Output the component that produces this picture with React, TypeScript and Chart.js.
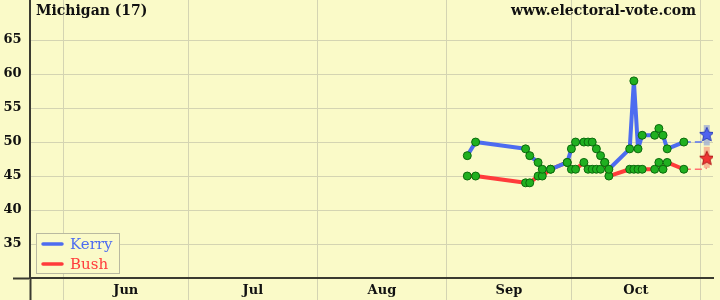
import React, { useEffect, useRef } from "react";
import { Chart, registerables } from "chart.js";

Chart.register(...registerables);

// ---- data ----
const TITLE = "Michigan (17)";
const SITE = "www.electoral-vote.com";
const MONTH_LABELS = ["Jun", "Jul", "Aug", "Sep", "Oct"];
const MONTH_STARTS = ["06-01", "07-01", "08-01", "09-01", "10-01", "11-01"];
const Y_TICKS = [30, 35, 40, 45, 50, 55, 60, 65];

const pollDates = [
  "09-06", "09-08", "09-20", "09-21", "09-23", "09-24", "09-26", "09-30",
  "10-01", "10-02", "10-04", "10-05", "10-06", "10-07", "10-08", "10-09",
  "10-10", "10-15", "10-16", "10-17", "10-18", "10-21", "10-22", "10-23",
  "10-24", "10-28",
];
const kerry = [
  48, 50, 49, 48, 47, 46, 46, 47,
  49, 50, 50, 50, 50, 49, 48, 47,
  46, 49, 59, 49, 51, 51, 52, 51,
  49, 50,
];
const bush = [
  45, 45, 44, 44, 45, 45, 46, 47,
  46, 46, 47, 46, 46, 46, 46, 47,
  45, 46, 46, 46, 46, 46, 47, 46,
  47, 46,
];

const electionDate = "11-02";
const kerryProjection = 51.2;
const bushProjection = 47.7;
const kerryRange = [49.5, 52.5];
const bushRange = [46.2, 49.3];

const SERIES = [
  { name: "Kerry", color: "#4d6cf0" },
  { name: "Bush", color: "#ff3b3b" },
];

// ---- helpers ----
function dayOf(md: string, hour = 0): number {
  const [m, d] = md.split("-").map(Number);
  return (Date.UTC(2004, m - 1, d, hour) - Date.UTC(2004, 5, 1)) / 86400000;
}

function starImage(fill: string, stroke: string, size: number): HTMLCanvasElement {
  const c = document.createElement("canvas");
  c.width = size;
  c.height = size;
  const g = c.getContext("2d")!;
  const cx = size / 2, cy = size / 2;
  const R = size / 2 - 0.5, r = R * 0.45;
  g.beginPath();
  for (let i = 0; i < 10; i++) {
    const rad = i % 2 === 0 ? R : r;
    const a = -Math.PI / 2 + (i * Math.PI) / 5;
    const px = cx + rad * Math.cos(a), py = cy + rad * Math.sin(a) + 0.9;
    if (i === 0) g.moveTo(px, py); else g.lineTo(px, py);
  }
  g.closePath();
  g.fillStyle = fill;
  g.fill();
  g.lineWidth = 1;
  g.strokeStyle = stroke;
  g.stroke();
  return c;
}

const BG = "#fafac8";
const GRID = "#d4d4b2";
const AXIS = "#3a3a30";
const FONT = '"DejaVu Serif", serif';

export default function App() {
  const ref = useRef<HTMLCanvasElement | null>(null);

  useEffect(() => {
    document.body.style.margin = "0";
    document.body.style.background = BG;
    const canvas = ref.current!;
    const xs = pollDates.map((d) => dayOf(d));
    const monthDays = MONTH_STARTS.map((d) => dayOf(d));
    const midDays = MONTH_LABELS.map((_, i) => (monthDays[i] + monthDays[i + 1]) / 2);
    const xMin = -8, xMax = 156;
    const lastX = xs[xs.length - 1];
    const dashEnd = dayOf(electionDate);
    const eday = dayOf(electionDate, 12);

    const kPts = xs.map((x, i) => ({ x, y: kerry[i] }));
    const bPts = xs.map((x, i) => ({ x, y: bush[i] }));

    const bgPlugin = {
      id: "bg",
      beforeDraw(chart: any) {
        const c = chart.ctx;
        c.save();
        c.fillStyle = BG;
        c.fillRect(0, 0, chart.width, chart.height);
        c.restore();
      },
    };

    const textPlugin = {
      id: "texts",
      afterDraw(chart: any) {
        const c = chart.ctx;
        const a = chart.chartArea;
        c.save();
        c.font = `bold 14px ${FONT}`;
        c.fillStyle = "#111";
        c.textBaseline = "alphabetic";
        c.textAlign = "left";
        c.fillText(TITLE, a.left + 6, 15);
        c.textAlign = "right";
        c.fillText(SITE, a.right - 17, 15);

        // legend box
        const bx = a.left + 6, by = a.bottom - 45, bw = 83, bh = 40;
        c.fillStyle = BG;
        c.fillRect(bx, by, bw, bh);
        c.strokeStyle = "#b9b9a0";
        c.lineWidth = 1;
        c.strokeRect(bx + 0.5, by + 0.5, bw, bh);
        c.font = `15px ${FONT}`;
        c.textAlign = "left";
        SERIES.forEach((s, i) => {
          const yy = by + 11 + i * 20;
          c.strokeStyle = s.color;
          c.lineWidth = 3.5;
          c.lineCap = "round";
          c.beginPath();
          c.moveTo(bx + 7, yy);
          c.lineTo(bx + 26, yy);
          c.stroke();
          c.fillStyle = s.color;
          c.fillText(s.name, bx + 34, yy + 5);
        });
        c.restore();
      },
    };

    const chart = new Chart(canvas, {
      type: "line",
      data: {
        datasets: [
          // dots on top
          {
            data: kPts, showLine: false, order: 0,
            pointRadius: 4, pointBackgroundColor: "#20b020", pointBorderColor: "#0c6a0c", pointBorderWidth: 1,
          },
          {
            data: bPts, showLine: false, order: 0,
            pointRadius: 4, pointBackgroundColor: "#20b020", pointBorderColor: "#0c6a0c", pointBorderWidth: 1,
          },
          // stars
          {
            data: [{ x: eday, y: kerryProjection }], showLine: false, order: 1,
            pointStyle: starImage("#4f63ef", "#2c3fb8", 16) as any, pointRadius: 8,
          },
          {
            data: [{ x: eday, y: bushProjection }], showLine: false, order: 1,
            pointStyle: starImage("#f03434", "#b01414", 16) as any, pointRadius: 8,
          },
          // lines
          {
            data: kPts, order: 3, borderColor: SERIES[0].color, borderWidth: 4, pointRadius: 0,
            borderJoinStyle: "round", borderCapStyle: "round", tension: 0,
          },
          {
            data: bPts, order: 4, borderColor: SERIES[1].color, borderWidth: 4, pointRadius: 0,
            borderJoinStyle: "round", borderCapStyle: "round", tension: 0,
          },
          // dashed extensions
          {
            data: [{ x: lastX, y: kerry[kerry.length - 1] }, { x: dashEnd, y: kerry[kerry.length - 1] }],
            order: 5, borderColor: "#5a74f0", borderWidth: 1.5, borderDash: [7, 4], pointRadius: 0,
          },
          {
            data: [{ x: lastX, y: bush[bush.length - 1] }, { x: dashEnd, y: bush[bush.length - 1] }, { x: eday, y: bushRange[0] }],
            order: 5, borderColor: "#ff7070", borderWidth: 1.5, borderDash: [7, 4], pointRadius: 0,
          },
          // projection ranges
          {
            data: [{ x: eday, y: kerryRange[0] }, { x: eday, y: kerryRange[1] }],
            order: 6, borderColor: "rgba(165,178,210,0.85)", borderWidth: 6, borderCapStyle: "butt", pointRadius: 0,
          },
          {
            data: [{ x: eday, y: bushRange[0] }, { x: eday, y: bushRange[1] }],
            order: 6, borderColor: "rgba(246,172,140,0.85)", borderWidth: 6, borderCapStyle: "butt", pointRadius: 0,
          },
        ] as any,
      },
      plugins: [bgPlugin, textPlugin],
      options: {
        responsive: false,
        animation: false,
        layout: { autoPadding: false, padding: { left: 0, right: 7, top: 0, bottom: 0 } },
        plugins: { legend: { display: false }, tooltip: { enabled: false }, title: { display: false } },
        scales: {
          x: {
            type: "linear",
            min: xMin,
            max: xMax,
            afterBuildTicks(scale: any) {
              scale.ticks = [xMin, ...monthDays, ...midDays].map((v) => ({ value: v }));
            },
            afterFit(scale: any) {
              scale.height = 22;
              scale.paddingLeft = 0;
              scale.paddingRight = 0;
            },
            border: { display: true, color: AXIS, width: 2 },
            grid: {
              drawTicks: true,
              tickLength: 22,
              lineWidth: 1,
              color: (ctx: any) => (monthDays.includes(ctx.tick?.value) ? GRID : "rgba(0,0,0,0)"),
              tickColor: (ctx: any) =>
                ctx.tick?.value === xMin ? AXIS : monthDays.includes(ctx.tick?.value) ? GRID : "rgba(0,0,0,0)",
              tickWidth: (ctx: any) => (ctx.tick?.value === xMin ? 2 : 1),
            },
            ticks: {
              autoSkip: false,
              maxRotation: 0,
              padding: -17,
              color: "#111",
              font: { family: FONT, weight: "bold", size: 13 },
              callback: (v: any) => {
                const i = midDays.indexOf(Number(v));
                return i >= 0 ? MONTH_LABELS[i] : "";
              },
            },
          },
          y: {
            type: "linear",
            min: 30,
            max: 70.9,
            afterBuildTicks(scale: any) {
              scale.ticks = Y_TICKS.map((v) => ({ value: v }));
            },
            afterFit(scale: any) {
              scale.width = 30;
              scale.paddingTop = 0;
              scale.paddingBottom = 0;
            },
            border: { display: true, color: AXIS, width: 2 },
            grid: {
              drawTicks: true,
              tickLength: 17,
              lineWidth: 1,
              color: (ctx: any) => (ctx.tick?.value === 30 ? "rgba(0,0,0,0)" : GRID),
              tickColor: (ctx: any) => (ctx.tick?.value === 30 ? AXIS : "rgba(0,0,0,0)"),
              tickWidth: (ctx: any) => (ctx.tick?.value === 30 ? 2 : 1),
            },
            ticks: {
              padding: -8.5,
              color: "#111",
              font: { family: FONT, weight: "bold", size: 13 },
              callback: (v: any) => (Number(v) === 30 ? "" : String(v)),
            },
          },
        },
      } as any,
    });
    return () => chart.destroy();
  }, []);

  return (
    <div style={{ width: 720, height: 300, background: BG }}>
      <canvas ref={ref} width={720} height={300} style={{ display: "block" }} />
    </div>
  );
}
